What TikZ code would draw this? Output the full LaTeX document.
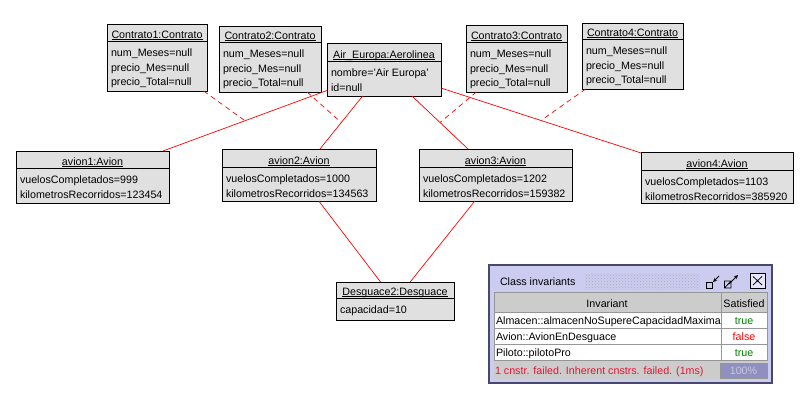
\documentclass[tikz,border=0pt]{standalone}
\usepackage{fontspec}
\setmainfont{Liberation Sans}
\definecolor{boxgrey}{RGB}{224,224,224}
\definecolor{linkred}{RGB}{255,0,0}
\definecolor{lavender}{RGB}{204,204,240}
\definecolor{winnavy}{RGB}{72,72,110}
\definecolor{headgrey}{RGB}{204,204,204}
\definecolor{gridgrey}{RGB}{150,150,150}
\definecolor{truegreen}{RGB}{0,128,0}
\definecolor{failred}{RGB}{230,20,50}
\definecolor{barblue}{RGB}{144,144,192}
\definecolor{barfont}{RGB}{200,200,225}
\usepackage{tikz}
\usetikzlibrary{patterns}
\tikzstyle{base}=[x=1pt, y=-1pt, inner sep=0pt, outer sep=0pt]
\tikzstyle{objbox}=[draw=black, fill=boxgrey, line width=0.9pt, anchor=north west]
\tikzstyle{objtitle}=[anchor=base]
\tikzstyle{objattr}=[anchor=base west]
\tikzstyle{assoc}=[linkred, line width=0.7pt]
\tikzstyle{link}=[linkred, line width=0.7pt, dash pattern=on 5pt off 4pt]
\tikzstyle{cell}=[anchor=base west]
\newcommand*{\objbox}[8]{%
  \node [objbox, minimum width=#4pt, minimum height=#5pt] (#1) at (#2,#3) {};
  \draw [black, line width=0.9pt] (#2,#3+#6) -- (#2+#4,#3+#6);
  \node [objtitle] (#1-t) at (#2+#4/2,#3+#6-3) {\underline{\smash{#7}}};
  \foreach \a [count=\i] in {#8}
    \node [objattr] (#1-\i) at (#2+4,#3+#6+15.5+14.5*\i-14.5) {\a};
}

\begin{document}
\begin{tikzpicture}[base]
    \fontsize{10.7}{13}\selectfont
        \useasboundingbox (0,0) rectangle (800,400);
        \objbox{contrato1}{107}{24}{100}{67}{17}{Contrato1:Contrato}{num\_Meses=null, precio\_Mes=null, precio\_Total=null}
        \objbox{contrato2}{219}{26}{102}{66}{16}{Contrato2:Contrato}{num\_Meses=null, precio\_Mes=null, precio\_Total=null}
        \objbox{air}{327}{43}{114}{53}{18}{Air\_Europa:Aerolinea}{nombre='Air Europa', id=null}
        \objbox{contrato3}{466}{25}{101}{67}{17}{Contrato3:Contrato}{num\_Meses=null, precio\_Mes=null, precio\_Total=null}
        \objbox{contrato4}{582}{23}{101}{66}{16}{Contrato4:Contrato}{num\_Meses=null, precio\_Mes=null, precio\_Total=null}
        \objbox{avion1}{16}{151}{153}{52}{17}{avion1:Avion}{vuelosCompletados=999, kilometrosRecorridos=123454}
        \objbox{avion2}{222}{149}{154}{52}{18}{avion2:Avion}{vuelosCompletados=1000, kilometrosRecorridos=134563}
        \objbox{avion3}{419}{149}{153}{52}{18}{avion3:Avion}{vuelosCompletados=1202, kilometrosRecorridos=159382}
        \objbox{avion4}{641}{152}{152}{51}{18}{avion4:Avion}{vuelosCompletados=1103, kilometrosRecorridos=385920}
        \objbox{desguace}{336}{282}{118}{38}{16}{Desguace2:Desguace}{capacidad=10}
        \draw [assoc] (air) -- node [coordinate] (m1) {} (avion1);
        \draw [assoc] (air) -- node [coordinate] (m2) {} (avion2);
        \draw [assoc] (air) -- node [coordinate] (m3) {} (avion3);
        \draw [assoc] (air) -- node [coordinate] (m4) {} (avion4);
        \draw [link] (contrato1) -- (m1);
        \draw [link] (contrato2) -- (m2);
        \draw [link] (contrato3) -- (m3);
        \draw [link] (contrato4) -- (m4);
        \draw [assoc] (avion2) -- (desguace);
        \draw [assoc] (avion3) -- (desguace);
        \draw [fill=lavender, draw=winnavy, line width=1.5pt] (489,265) rectangle (772,383);
        \fill [pattern=crosshatch dots, pattern color=winnavy!45] (585,273) rectangle (700,289);
        \node [cell] (wintitle) at (500,285) {Class invariants};
        \draw [black, line width=0.8pt] (706.5,282.5) rectangle (712,288);
        \draw [black, line width=0.8pt, -stealth] (719,276) -- (713,282);
        \draw [black, line width=0.8pt] (724.5,281) rectangle (731,288) (724.5,288) -- (731,281);
        \draw [black, line width=0.8pt, -stealth] (729,284) -- (738,275);
        \draw [black, fill=lavender!50!white, line width=0.8pt] (750,273.5) rectangle (765,288);
        \draw [black, line width=0.8pt] (753,276.5) -- (762,285) (753,285) -- (762,276.5);
        \draw [fill=white, draw=gridgrey] (494,292) rectangle (767,360);
        \draw [fill=headgrey, draw=gridgrey] (494,292) rectangle (767,312);
        \draw [gridgrey] (494,328) -- (767,328) (494,344) -- (767,344) (721,292) -- (721,360);
        \node [anchor=base] (hinv) at (607,307) {Invariant};
        \node [anchor=base] (hsat) at (744,307) {Satisfied};
        \node [cell] (inv1) at (496,324) {Almacen::almacenNoSupereCapacidadMaxima};
        \node [anchor=base, truegreen] (sat1) at (744,324) {true};
        \node [cell] (inv2) at (496,340) {Avion::AvionEnDesguace};
        \node [anchor=base, red] (sat2) at (744,340) {false};
        \node [cell] (inv3) at (496,356) {Piloto::pilotoPro};
        \node [anchor=base, truegreen] (sat3) at (744,356) {true};
        \fill [headgrey] (494,361) rectangle (767,379);
        \node [cell, failred] (status) at (495,374) {1 cnstr. failed. Inherent cnstrs. failed. (1ms)};
        \draw [fill=barblue, draw=gridgrey] (720,363) rectangle (767,378);
        \node [anchor=base, barfont] (bar) at (743.5,374) {100\%};
    \end{tikzpicture}
\end{document}
